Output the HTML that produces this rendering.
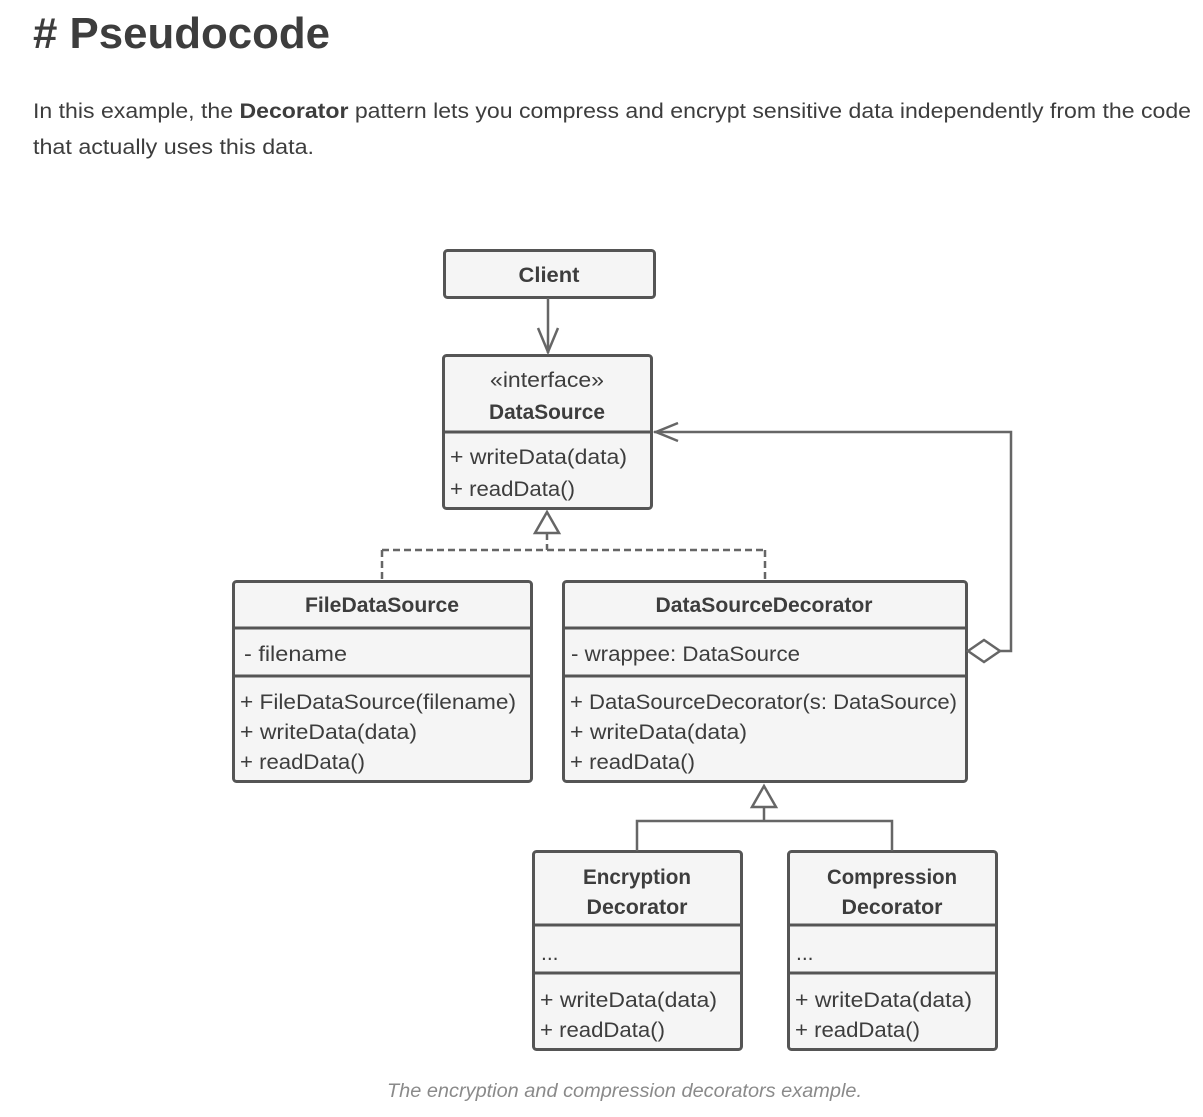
<!DOCTYPE html>
<html><head><meta charset="utf-8"><style>
html,body{margin:0;padding:0;background:#fff;width:1203px;height:1117px;overflow:hidden}
svg{display:block}
text{font-family:"Liberation Sans",sans-serif;fill:#3d3d3d}
.b{font-weight:bold}
.m{font-size:21px}
</style></head><body>
<svg width="1203" height="1117" viewBox="0 0 1203 1117">
<text x="33" y="48" class="b" font-size="44" textLength="297" lengthAdjust="spacingAndGlyphs" fill="#3a3a3a">#&#160;Pseudocode</text>
<text x="33" y="118" font-size="21" textLength="1158" lengthAdjust="spacingAndGlyphs">In this example, the <tspan font-weight="bold">Decorator</tspan> pattern lets you compress and encrypt sensitive data independently from the code</text>
<text x="33" y="154" font-size="21" textLength="281" lengthAdjust="spacingAndGlyphs">that actually uses this data.</text>

<g stroke="#555" stroke-width="3" fill="#f5f5f5">
<rect x="444.5" y="250.5" width="210" height="47" rx="3"/>
<rect x="443.5" y="355.5" width="208" height="153" rx="3"/>
<rect x="233.5" y="581.5" width="298" height="200" rx="3"/>
<rect x="563.5" y="581.5" width="403" height="200" rx="3"/>
<rect x="533.5" y="851.5" width="208" height="198" rx="3"/>
<rect x="788.5" y="851.5" width="208" height="198" rx="3"/>
</g>
<g stroke="#555" stroke-width="3" fill="none">
<line x1="443" y1="432" x2="652" y2="432"/>
<line x1="233" y1="628" x2="532" y2="628"/>
<line x1="233" y1="676" x2="532" y2="676"/>
<line x1="563" y1="628" x2="967" y2="628"/>
<line x1="563" y1="676" x2="967" y2="676"/>
<line x1="533" y1="925" x2="742" y2="925"/>
<line x1="533" y1="973" x2="742" y2="973"/>
<line x1="788" y1="925" x2="997" y2="925"/>
<line x1="788" y1="973" x2="997" y2="973"/>
</g>
<g stroke="#666" stroke-width="2.5" fill="none">
<line x1="548" y1="298" x2="548" y2="353"/>
<polyline points="538,328 548,352 558,328"/>
<polygon points="547,512 535,533 559,533" fill="#fff"/>
<g stroke-dasharray="7,4">
<line x1="547" y1="533" x2="547" y2="550"/>
<line x1="382" y1="550" x2="765" y2="550"/>
<line x1="382" y1="550" x2="382" y2="580"/>
<line x1="765" y1="550" x2="765" y2="580"/>
</g>
<polyline points="1000,651 1011,651 1011,432 654,432"/>
<polyline points="678,423 656,432 678,441"/>
<polygon points="968,651 984,640 1000,651 984,662" fill="#fff"/>
<polygon points="764,786 752,807 776,807" fill="#fff"/>
<line x1="764" y1="807" x2="764" y2="821"/>
<polyline points="637,851 637,821 892,821 892,851"/>
</g>

<g class="m">
<text x="549" y="282" class="b" text-anchor="middle" textLength="61" lengthAdjust="spacingAndGlyphs">Client</text>
<text x="547" y="387" text-anchor="middle" textLength="114" lengthAdjust="spacingAndGlyphs">«interface»</text>
<text x="547" y="419" class="b" text-anchor="middle" textLength="116" lengthAdjust="spacingAndGlyphs">DataSource</text>
<text x="450" y="464" textLength="177" lengthAdjust="spacingAndGlyphs">+ writeData(data)</text>
<text x="450" y="496" textLength="125" lengthAdjust="spacingAndGlyphs">+ readData()</text>

<text x="382" y="612" class="b" text-anchor="middle" textLength="154" lengthAdjust="spacingAndGlyphs">FileDataSource</text>
<text x="244" y="661" textLength="103" lengthAdjust="spacingAndGlyphs">- filename</text>
<text x="240" y="709" textLength="276" lengthAdjust="spacingAndGlyphs">+ FileDataSource(filename)</text>
<text x="240" y="739" textLength="177" lengthAdjust="spacingAndGlyphs">+ writeData(data)</text>
<text x="240" y="769" textLength="125" lengthAdjust="spacingAndGlyphs">+ readData()</text>

<text x="764" y="612" class="b" text-anchor="middle" textLength="217" lengthAdjust="spacingAndGlyphs">DataSourceDecorator</text>
<text x="571" y="661" textLength="229" lengthAdjust="spacingAndGlyphs">- wrappee: DataSource</text>
<text x="570" y="709" textLength="387" lengthAdjust="spacingAndGlyphs">+ DataSourceDecorator(s: DataSource)</text>
<text x="570" y="739" textLength="177" lengthAdjust="spacingAndGlyphs">+ writeData(data)</text>
<text x="570" y="769" textLength="125" lengthAdjust="spacingAndGlyphs">+ readData()</text>

<text x="637" y="884" class="b" text-anchor="middle" textLength="108" lengthAdjust="spacingAndGlyphs">Encryption</text>
<text x="637" y="914" class="b" text-anchor="middle" textLength="101" lengthAdjust="spacingAndGlyphs">Decorator</text>
<text x="541" y="960">...</text>
<text x="540" y="1007" textLength="177" lengthAdjust="spacingAndGlyphs">+ writeData(data)</text>
<text x="540" y="1037" textLength="125" lengthAdjust="spacingAndGlyphs">+ readData()</text>

<text x="892" y="884" class="b" text-anchor="middle" textLength="130" lengthAdjust="spacingAndGlyphs">Compression</text>
<text x="892" y="914" class="b" text-anchor="middle" textLength="101" lengthAdjust="spacingAndGlyphs">Decorator</text>
<text x="796" y="960">...</text>
<text x="795" y="1007" textLength="177" lengthAdjust="spacingAndGlyphs">+ writeData(data)</text>
<text x="795" y="1037" textLength="125" lengthAdjust="spacingAndGlyphs">+ readData()</text>
</g>
<text x="387" y="1097" font-size="19" font-style="italic" fill="#8a8a8a" style="fill:#8a8a8a" textLength="475" lengthAdjust="spacingAndGlyphs">The encryption and compression decorators example.</text>
</svg>
</body></html>
